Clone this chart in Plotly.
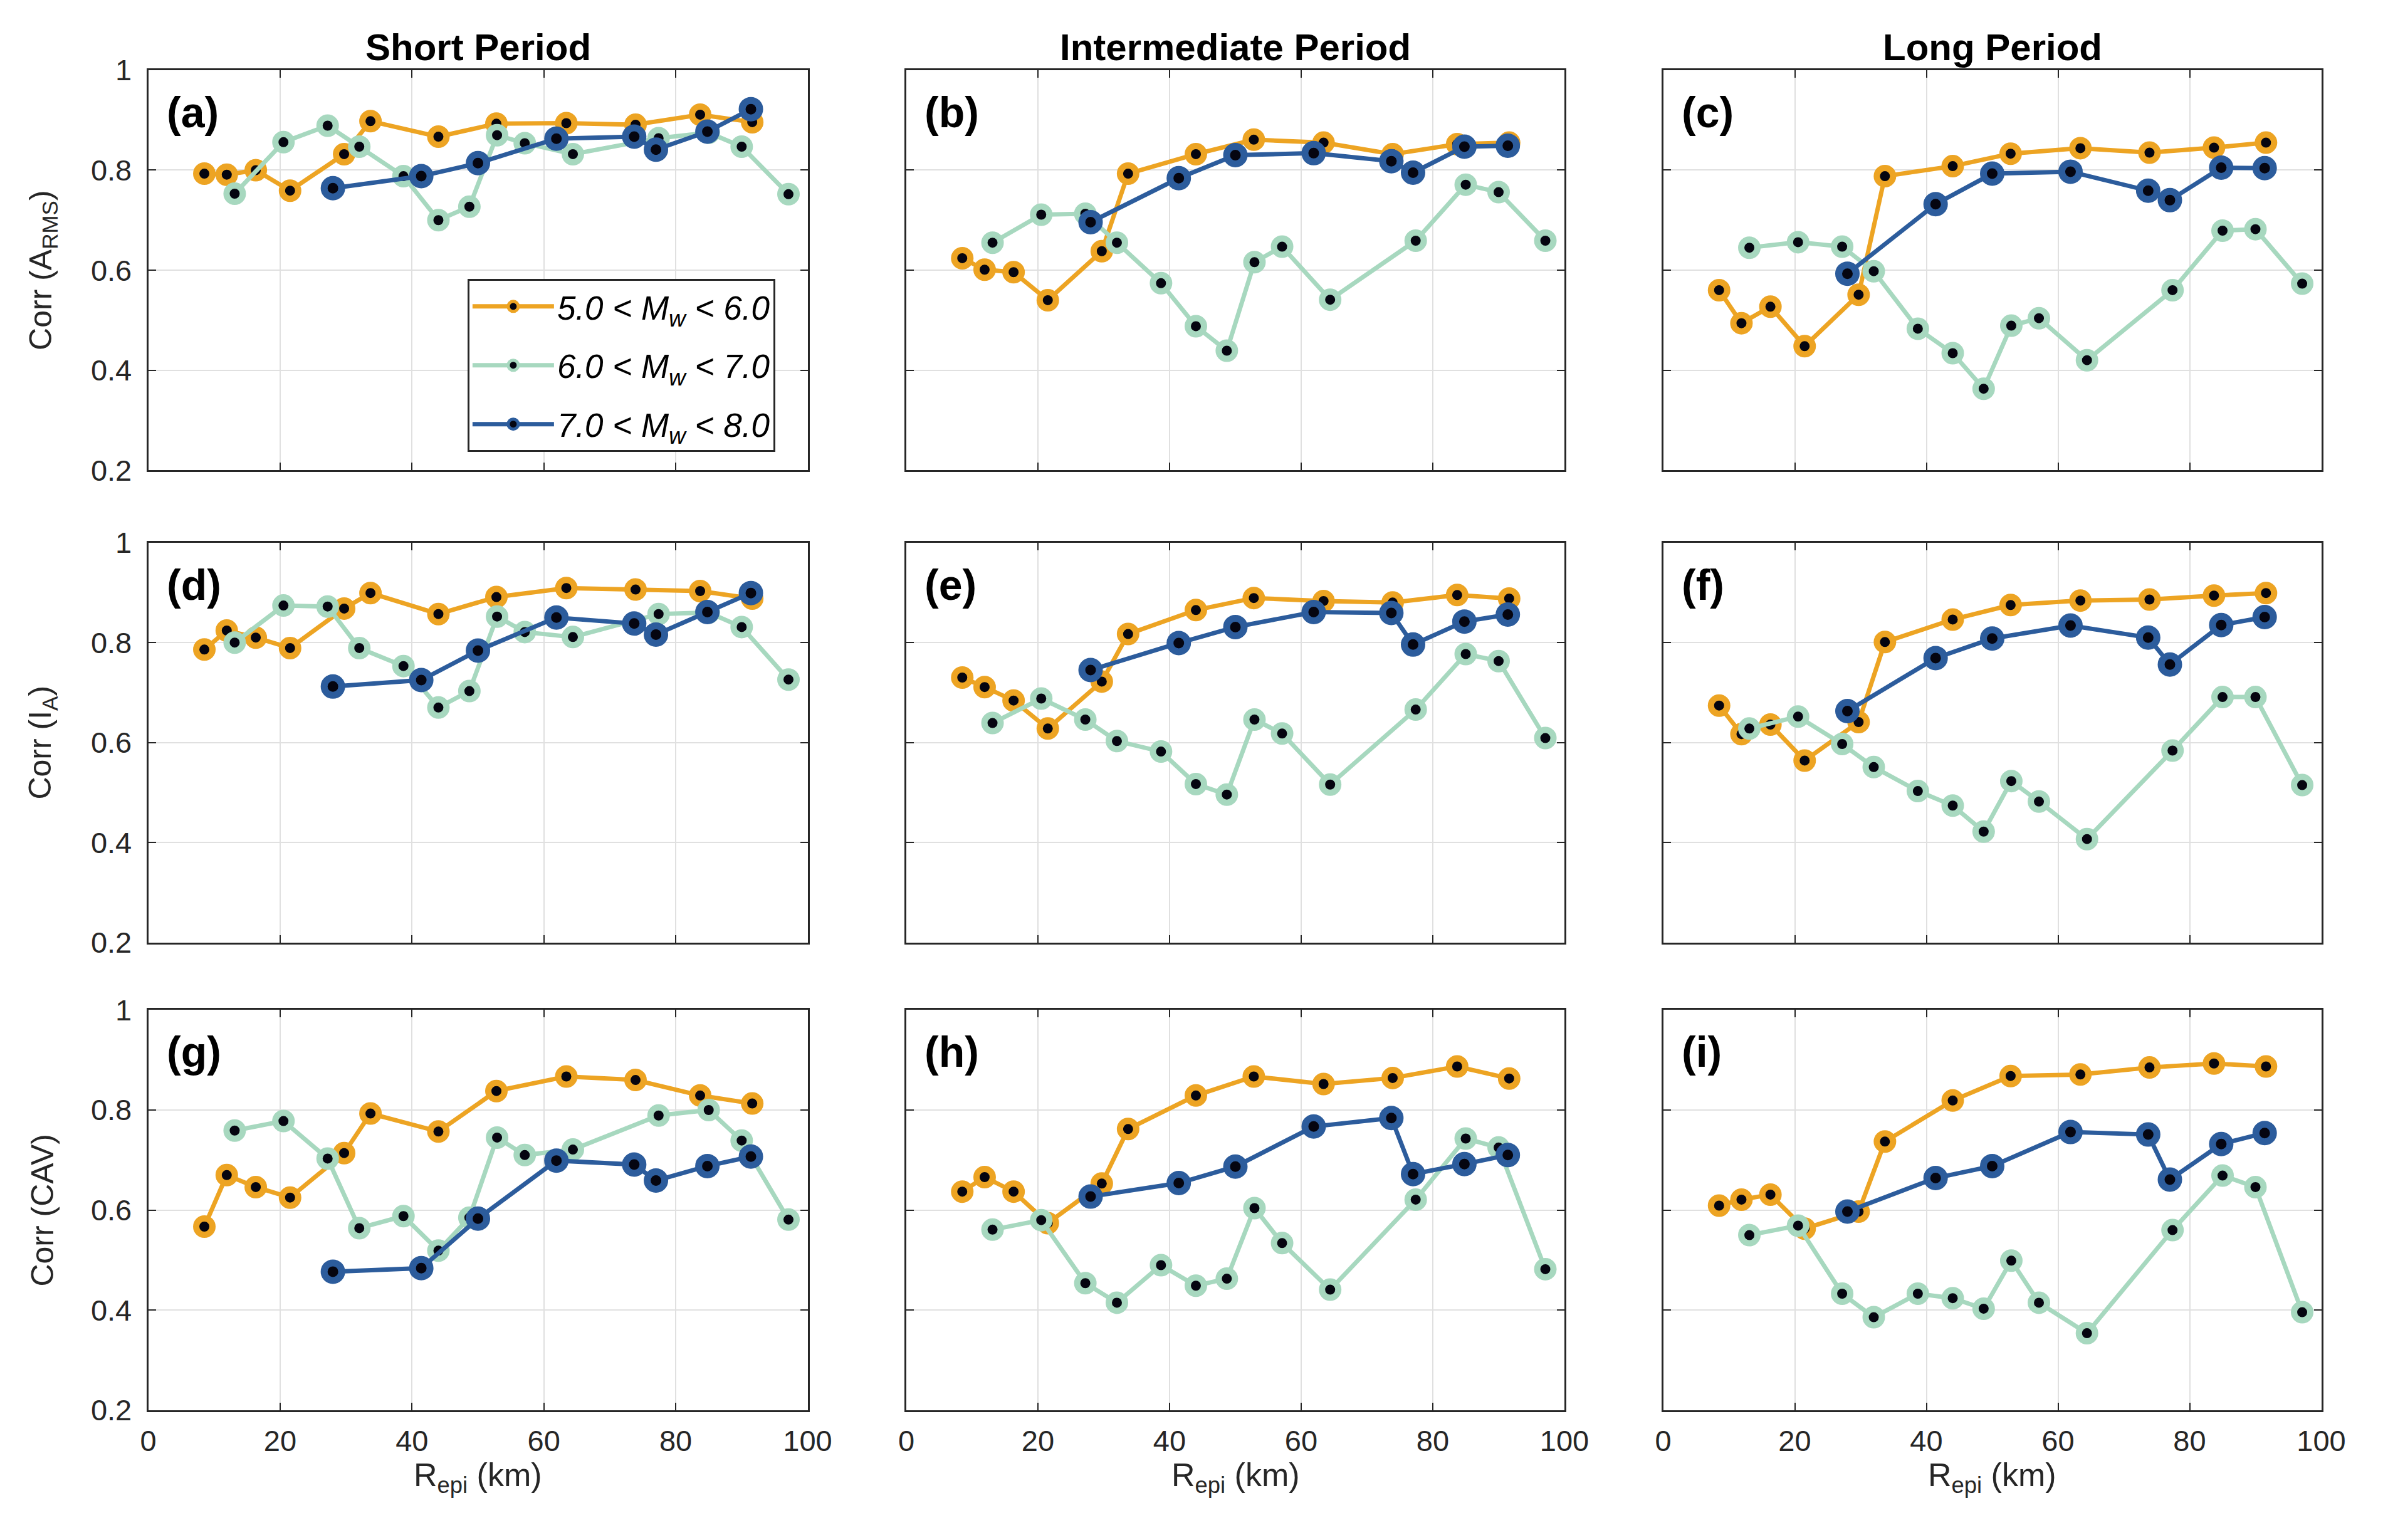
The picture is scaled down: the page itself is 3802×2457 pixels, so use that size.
import plotly.graph_objects as go

# ---------------- data ----------------
r_m56 = [8.5, 11.9, 16.3, 21.5, 29.7, 33.7, 44.0, 52.8, 63.4, 73.9, 83.7, 91.6]
r_m67 = [13.1, 20.5, 27.2, 32.0, 38.7, 44.0, 48.7, 52.9, 57.1, 64.4, 77.4, 85.0, 90.0, 97.1]
r_m78 = [28.0, 41.4, 50.0, 61.9, 73.7, 77.0, 84.8, 91.4]

a_56 = [0.793, 0.791, 0.800, 0.759, 0.832, 0.898, 0.867, 0.893, 0.894, 0.891, 0.911, 0.896]
a_67 = [0.753, 0.856, 0.889, 0.847, 0.788, 0.700, 0.727, 0.870, 0.854, 0.832, 0.864, 0.875, 0.847, 0.752]
a_78 = [0.764, 0.788, 0.814, 0.863, 0.867, 0.841, 0.877, 0.922]

b_56 = [0.624, 0.601, 0.596, 0.540, 0.638, 0.793, 0.832, 0.861, 0.855, 0.832, 0.852, 0.855]
b_67 = [0.655, 0.711, 0.713, 0.655, 0.574, 0.488, 0.439, 0.616, 0.647, 0.541, 0.659, 0.771, 0.756, 0.659]
b_78 = [0.696, 0.784, 0.830, 0.834, 0.818, 0.795, 0.847, 0.849]

c_56 = [0.560, 0.494, 0.527, 0.448, 0.551, 0.788, 0.808, 0.833, 0.844, 0.835, 0.845, 0.855]
c_67 = [0.645, 0.656, 0.647, 0.598, 0.483, 0.434, 0.363, 0.489, 0.504, 0.420, 0.560, 0.679, 0.682, 0.573]
c_78 = [0.593, 0.732, 0.793, 0.797, 0.759, 0.740, 0.805, 0.804]

d_56 = [0.786, 0.824, 0.810, 0.789, 0.868, 0.899, 0.857, 0.891, 0.909, 0.906, 0.903, 0.888]
d_67 = [0.800, 0.874, 0.872, 0.789, 0.753, 0.670, 0.703, 0.852, 0.821, 0.811, 0.857, 0.860, 0.831, 0.726]
d_78 = [0.712, 0.725, 0.784, 0.850, 0.838, 0.816, 0.861, 0.899]

e_56 = [0.730, 0.711, 0.684, 0.628, 0.722, 0.817, 0.865, 0.889, 0.883, 0.880, 0.895, 0.888]
e_67 = [0.639, 0.688, 0.646, 0.603, 0.582, 0.517, 0.496, 0.646, 0.618, 0.516, 0.666, 0.777, 0.763, 0.609]
e_78 = [0.745, 0.799, 0.831, 0.861, 0.859, 0.796, 0.842, 0.856]

f_56 = [0.674, 0.617, 0.636, 0.564, 0.641, 0.801, 0.846, 0.875, 0.884, 0.886, 0.894, 0.899]
f_67 = [0.628, 0.652, 0.597, 0.551, 0.503, 0.474, 0.422, 0.523, 0.482, 0.407, 0.584, 0.691, 0.691, 0.515]
f_78 = [0.663, 0.769, 0.808, 0.834, 0.810, 0.756, 0.835, 0.851]

g_56 = [0.567, 0.670, 0.646, 0.625, 0.714, 0.793, 0.757, 0.838, 0.867, 0.860, 0.829, 0.813]
g_67 = [0.759, 0.778, 0.703, 0.564, 0.588, 0.519, 0.585, 0.745, 0.710, 0.721, 0.789, 0.800, 0.739, 0.581]
g_78 = [0.477, 0.484, 0.583, 0.699, 0.691, 0.659, 0.688, 0.707]

h_56 = [0.637, 0.666, 0.637, 0.574, 0.653, 0.762, 0.829, 0.867, 0.852, 0.864, 0.887, 0.863]
h_67 = [0.561, 0.580, 0.454, 0.415, 0.490, 0.449, 0.463, 0.604, 0.534, 0.441, 0.621, 0.743, 0.725, 0.482]
h_78 = [0.627, 0.654, 0.687, 0.767, 0.784, 0.672, 0.692, 0.710]

i_56 = [0.609, 0.621, 0.631, 0.563, 0.597, 0.737, 0.819, 0.868, 0.871, 0.885, 0.893, 0.887]
i_67 = [0.550, 0.569, 0.433, 0.386, 0.433, 0.424, 0.403, 0.499, 0.415, 0.354, 0.560, 0.669, 0.646, 0.396]
i_78 = [0.597, 0.664, 0.688, 0.756, 0.751, 0.661, 0.732, 0.754]

panel_labels = ["(a)", "(b)", "(c)", "(d)", "(e)", "(f)", "(g)", "(h)", "(i)"]
panel_data = [
    (a_56, a_67, a_78), (b_56, b_67, b_78), (c_56, c_67, c_78),
    (d_56, d_67, d_78), (e_56, e_67, e_78), (f_56, f_67, f_78),
    (g_56, g_67, g_78), (h_56, h_67, h_78), (i_56, i_67, i_78),
]
column_titles = ["Short Period", "Intermediate Period", "Long Period"]
row_titles = ["Corr (A<sub>RMS</sub>)", "Corr (I<sub>A</sub>)", "Corr (CAV)"]
series_names = ["<i>5.0 < M<sub>w</sub> < 6.0</i>",
                "<i>6.0 < M<sub>w</sub> < 7.0</i>",
                "<i>7.0 < M<sub>w</sub> < 8.0</i>"]
x_tickvals = [0, 20, 40, 60, 80, 100]
x_ticktext = ["0", "20", "40", "60", "80", "100"]
y_tickvals = [0.2, 0.4, 0.6, 0.8, 1.0]
y_ticktext = ["0.2", "0.4", "0.6", "0.8", "1"]
x_title = "R<sub>epi</sub> (km)"

# ---------------- style ----------------
FONT = "Liberation Sans, Arial, Helvetica, sans-serif"
colors = ["#EDA423", "#A7D8BF", "#2C5C9C"]
marker_sizes = [26, 26, 28]
marker_lw = [10, 10, 11]
r_lists = [r_m56, r_m67, r_m78]

col_domains = [(0.0575, 0.338), (0.380, 0.660), (0.702, 0.982)]
row_domains = [(0.7025, 0.968), (0.389, 0.6545), (0.0786, 0.3443)]

fig = go.Figure()

for k in range(9):
    r, c = divmod(k, 3)
    idx = k + 1
    xa = "x" if idx == 1 else f"x{idx}"
    ya = "y" if idx == 1 else f"y{idx}"
    for s in range(3):
        fig.add_trace(go.Scatter(
            x=r_lists[s], y=panel_data[k][s],
            xaxis=xa, yaxis=ya,
            mode="lines+markers",
            name=series_names[s],
            legendgroup=f"g{s}",
            showlegend=(k == 0),
            line=dict(color=colors[s], width=7),
            marker=dict(symbol="circle", size=marker_sizes[s], color="#050510",
                        line=dict(color=colors[s], width=marker_lw[s])),
        ))
    xkey = "xaxis" if idx == 1 else f"xaxis{idx}"
    ykey = "yaxis" if idx == 1 else f"yaxis{idx}"
    fig.layout[xkey] = dict(
        domain=list(col_domains[c]), anchor=ya, range=[0, 100],
        tickvals=x_tickvals, ticktext=x_ticktext, showticklabels=(r == 2),
        ticks="inside", ticklen=12, tickwidth=2, tickcolor="#262626",
        showline=True, linecolor="#262626", linewidth=3, mirror="ticks",
        showgrid=True, gridcolor="#E0E0E0", gridwidth=2, zeroline=False,
        tickfont=dict(family=FONT, size=47, color="#262626"),
        ticklabelstandoff=6,
    )
    fig.layout[ykey] = dict(
        domain=list(row_domains[r]), anchor=xa, range=[0.2, 1.0],
        tickvals=y_tickvals, ticktext=y_ticktext, showticklabels=(c == 0),
        ticks="inside", ticklen=12, tickwidth=2, tickcolor="#262626",
        showline=True, linecolor="#262626", linewidth=3, mirror="ticks",
        showgrid=True, gridcolor="#E0E0E0", gridwidth=2, zeroline=False,
        tickfont=dict(family=FONT, size=47, color="#262626"),
        ticklabelstandoff=14,
    )
    # panel label
    fig.add_annotation(
        text=f"<b>{panel_labels[k]}</b>", xref=f"{xa} domain", yref=f"{ya} domain",
        x=0.026, y=0.895, xanchor="left", yanchor="middle", showarrow=False,
        font=dict(family=FONT, size=68, color="#000000"),
    )

# column titles and x titles
for c in range(3):
    fig.add_annotation(
        text=f"<b>{column_titles[c]}</b>", xref="paper", yref="paper",
        x=(col_domains[c][0] + col_domains[c][1]) / 2, y=0.983,
        xanchor="center", yanchor="middle", showarrow=False,
        font=dict(family=FONT, size=60, color="#000000"),
    )
    fig.add_annotation(
        text=x_title, xref="paper", yref="paper",
        x=(col_domains[c][0] + col_domains[c][1]) / 2, y=0.034,
        xanchor="center", yanchor="middle", showarrow=False,
        font=dict(family=FONT, size=52, color="#262626"),
    )

# row titles
for r in range(3):
    fig.add_annotation(
        text=row_titles[r], xref="paper", yref="paper",
        x=0.0125, y=(row_domains[r][0] + row_domains[r][1]) / 2,
        xanchor="center", yanchor="middle", textangle=-90, showarrow=False,
        font=dict(family=FONT, size=50, color="#262626"),
    )

fig.update_layout(
    width=3802, height=2457,
    paper_bgcolor="white", plot_bgcolor="white",
    margin=dict(l=0, r=0, t=0, b=0),
    font=dict(family=FONT, color="#262626"),
    legend=dict(
        x=0.1933, y=0.8295, xanchor="left", yanchor="top",
        bgcolor="white", bordercolor="#262626", borderwidth=3,
        font=dict(family=FONT, size=53, color="#000000"),
        itemwidth=130, tracegroupgap=22,
    ),
)

fig.write_html("out.html")
